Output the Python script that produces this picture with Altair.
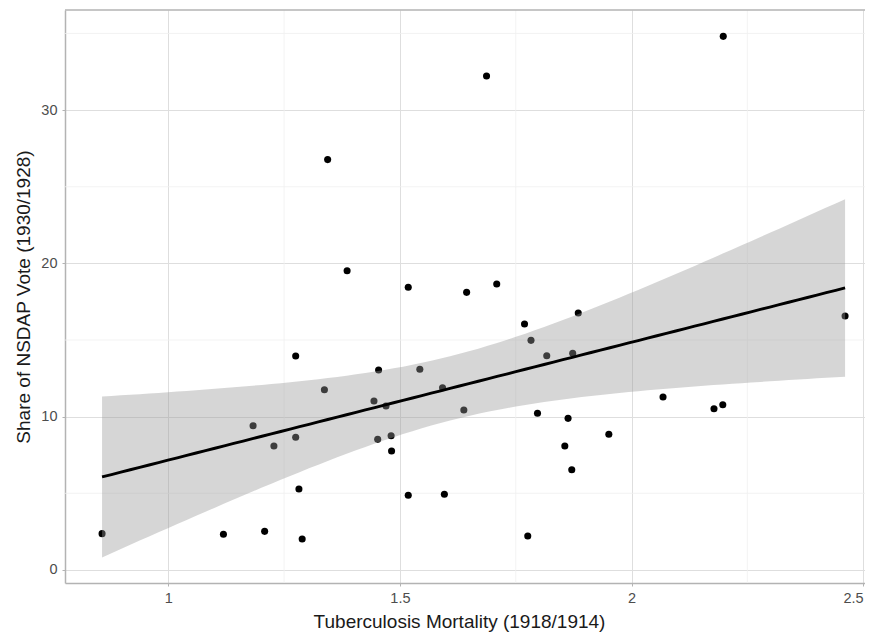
import altair as alt
import numpy as np
import pandas as pd

# Data
tb_mortality = [1.344, 1.386, 1.518, 1.644, 1.687, 2.198, 1.709, 1.275, 1.454, 1.543,
                1.337, 1.592, 1.444, 1.470, 1.638, 1.183, 1.275, 1.228, 1.452, 1.481,
                1.482, 1.282, 1.518, 1.596, 0.857, 1.119, 1.208, 1.289, 1.769, 1.885,
                2.461, 1.783, 1.817, 1.873, 1.797, 1.863, 2.068, 2.178, 2.197, 1.951,
                1.856, 1.871, 1.776]
nsdap_share = [26.77, 19.52, 18.44, 18.11, 32.22, 34.81, 18.66, 13.96, 13.05, 13.09,
               11.76, 11.89, 11.02, 10.70, 10.44, 9.41, 8.66, 8.09, 8.52, 8.76,
               7.76, 5.28, 4.87, 4.94, 2.37, 2.33, 2.52, 2.02, 16.05, 16.76,
               16.57, 14.98, 13.98, 14.13, 10.22, 9.89, 11.28, 10.52, 10.78, 8.85,
               8.09, 6.54, 2.22]

x_major = [1, 1.5, 2, 2.5]
x_minor = [1.25, 1.75, 2.25]
y_major = [0, 10, 20, 30]
y_minor = [5, 15, 25, 35]

x_domain = [0.777, 2.504]
y_domain = [-0.85, 36.53]

# Linear fit with 95% confidence band (like geom_smooth(method="lm"))
x = np.array(tb_mortality)
y = np.array(nsdap_share)
n = len(x)
b1, b0 = np.polyfit(x, y, 1)
resid = y - (b0 + b1 * x)
s = np.sqrt(np.sum(resid ** 2) / (n - 2))
sxx = np.sum((x - x.mean()) ** 2)
t_crit = 2.0195
xg = np.linspace(x.min(), x.max(), 80)
yg = b0 + b1 * xg
se = s * np.sqrt(1.0 / n + (xg - x.mean()) ** 2 / sxx)
fit = pd.DataFrame({"x": xg, "y": yg, "lo": yg - t_crit * se, "hi": yg + t_crit * se})

pts = pd.DataFrame({"x": tb_mortality, "y": nsdap_share})

W, H = 800, 573
xs = alt.Scale(domain=x_domain, nice=False, zero=False)
ys = alt.Scale(domain=y_domain, nice=False, zero=False)

grid_c = "#dedede"
minor_c = "#f0f0f0"

minor_x = alt.Chart(pd.DataFrame({"v": x_minor})).mark_rule(
    color=minor_c, strokeWidth=0.8).encode(x=alt.X("v:Q", scale=xs))
minor_y = alt.Chart(pd.DataFrame({"v": y_minor})).mark_rule(
    color=minor_c, strokeWidth=0.8).encode(y=alt.Y("v:Q", scale=ys))

points = alt.Chart(pts).mark_circle(size=50, color="black", opacity=1).encode(
    x=alt.X("x:Q", scale=xs,
            axis=alt.Axis(title="Tuberculosis Mortality (1918/1914)", values=x_major,
                          labelExpr="datum.value == 1 ? '1' : datum.value == 2 ? '2' : datum.label",
                          grid=True, gridColor=grid_c, gridWidth=1,
                          domain=True, domainColor="#b3b3b3", domainWidth=1.5,
                          tickColor="#b3b3b3", tickSize=3, labelPadding=5,
                          labelFlush=5, titlePadding=8, titleX=394, titleAlign="center")),
    y=alt.Y("y:Q", scale=ys,
            axis=alt.Axis(title="Share of NSDAP Vote (1930/1928)", values=y_major,
                          grid=True, gridColor=grid_c, gridWidth=1,
                          domain=True, domainColor="#b3b3b3", domainWidth=1.5,
                          tickColor="#b3b3b3", tickSize=3, labelPadding=5,
                          titlePadding=7)),
)

band = alt.Chart(fit).mark_area(color="#999999", opacity=0.4).encode(
    x=alt.X("x:Q", scale=xs), y=alt.Y("lo:Q", scale=ys), y2="hi:Q")
line = alt.Chart(fit).mark_line(color="black", strokeWidth=2.9).encode(
    x=alt.X("x:Q", scale=xs), y=alt.Y("y:Q", scale=ys))

top_border = alt.Chart(pd.DataFrame({"a": [0]})).mark_rule(
    color="#b3b3b3", strokeWidth=1.5).encode(
    x=alt.value(0), x2=alt.value(W), y=alt.value(0))

chart = alt.layer(minor_x, minor_y, points, band, line, top_border).properties(
    width=W, height=H,
    autosize=alt.AutoSizeParams(type="none"),
    padding={"left": 57, "top": 2, "right": 0, "bottom": 50},
).configure_view(stroke=None).configure_axis(
    labelFont="Liberation Sans", titleFont="Liberation Sans",
    labelFontSize=14.5, titleFontSize=19, labelColor="#4d4d4d",
    titleColor="#1a1a1a", titleFontWeight="normal",
)

chart.save("out.html", embed_options={"renderer": "svg", "actions": False})
